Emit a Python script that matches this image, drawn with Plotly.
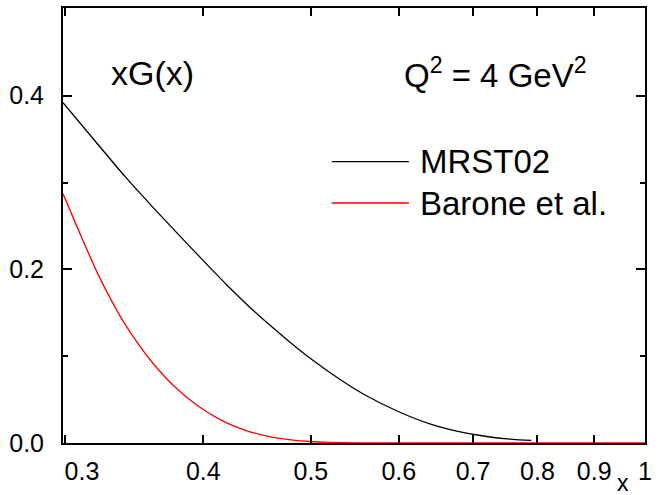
import plotly.graph_objects as go
import math

# ---- data ----
x_mrst = [0.299, 0.32, 0.34, 0.36, 0.38, 0.40, 0.42, 0.44, 0.46, 0.48, 0.50,
          0.53, 0.56, 0.60, 0.64, 0.68, 0.72, 0.76, 0.79]
y_mrst = [0.392, 0.347, 0.307, 0.272, 0.240, 0.210, 0.182, 0.157, 0.135, 0.115, 0.097,
          0.074, 0.055, 0.036, 0.022, 0.013, 0.0075, 0.0042, 0.003]

x_barone = [0.299, 0.31, 0.32, 0.33, 0.34, 0.35, 0.36, 0.37, 0.38, 0.39, 0.40,
            0.41, 0.42, 0.43, 0.44, 0.46, 0.48, 0.50, 0.52, 0.55, 0.60, 0.70, 0.80, 0.90, 1.0]
y_barone = [0.287, 0.240, 0.200, 0.166, 0.137, 0.113, 0.0924, 0.0752, 0.0608, 0.0487, 0.0386,
            0.0301, 0.0232, 0.0176, 0.0132, 0.0071, 0.0036, 0.0017, 0.0008, 0.0002, 0.0,
            0.0, 0.0, 0.0, 0.0]

x_ticks = [0.3, 0.4, 0.5, 0.6, 0.7, 0.8, 0.9, 1.0]
x_ticklabels = ["\u00a0" * 5 + "0.3", "0.4", "0.5", "0.6", "0.7", "0.8", "0.9", "1"]
y_ticks = [0.0, 0.2, 0.4]
y_ticklabels = ["0.0", "0.2", "0.4"]
y_minor_ticks = [0.1, 0.3]

series_names = ["MRST02", "Barone et al."]
series_colors = ["black", "#ff0000"]

FONT = "Liberation Sans, Arial, sans-serif"

fig = go.Figure()
fig.add_trace(go.Scatter(x=x_mrst, y=y_mrst, mode="lines", name=series_names[0],
                         line=dict(color=series_colors[0], width=1.3, shape="spline", smoothing=0.6),
                         showlegend=False))
fig.add_trace(go.Scatter(x=x_barone, y=y_barone, mode="lines", name=series_names[1],
                         line=dict(color=series_colors[1], width=1.3, shape="spline", smoothing=0.6),
                         showlegend=False))

W, H = 658, 495
L, R, T, B = 63, 6, 8, 52

fig.update_layout(
    width=W, height=H, autosize=False,
    margin=dict(l=L, r=R, t=T, b=B, pad=0),
    paper_bgcolor="white", plot_bgcolor="white",
    font=dict(family=FONT, color="black", size=25),
)
fig.update_xaxes(
    type="log", range=[math.log10(0.299), 0.0],
    tickvals=x_ticks, ticktext=x_ticklabels,
    ticks="inside", ticklen=8, tickwidth=1.5, tickcolor="black",
    showline=True, linewidth=2, linecolor="black", mirror="ticks",
    showgrid=False, zeroline=False,
    tickfont=dict(size=25), ticklabelstandoff=5,
)
fig.update_yaxes(
    range=[0.0, 0.501],
    tickvals=y_ticks, ticktext=y_ticklabels,
    ticks="inside", ticklen=9, tickwidth=1.5, tickcolor="black",
    minor=dict(tickvals=y_minor_ticks, ticks="inside", ticklen=5, tickwidth=1.5, tickcolor="black"),
    showline=True, linewidth=2, linecolor="black", mirror="ticks",
    showgrid=False, zeroline=False,
    tickfont=dict(size=25), ticklabelstandoff=12,
)

# helper: pixel -> paper
def px(xp):
    return (xp - L) / (W - L - R)

def py(yp):
    return 1 - (yp - T) / (H - T - B)

# manual legend
leg_rows = [161.7, 203.0]
for name, col, yy in zip(series_names, series_colors, leg_rows):
    fig.add_shape(type="line", xref="paper", yref="paper",
                  x0=px(335), x1=px(413), y0=py(yy), y1=py(yy),
                  line=dict(color=col, width=1.3))
    fig.add_annotation(xref="paper", yref="paper", x=px(422), y=py(yy),
                       text=name, showarrow=False, xanchor="left", yanchor="middle",
                       font=dict(size=33, family=FONT, color="black"))

fig.add_annotation(xref="paper", yref="paper", x=px(110), y=py(73),
                   text="xG(x)", showarrow=False, xanchor="left", yanchor="middle",
                   font=dict(size=34, family=FONT, color="black"))
fig.add_annotation(xref="paper", yref="paper", x=px(406), y=py(73),
                   text="Q<sup>2</sup> = 4 GeV<sup>2</sup>", showarrow=False,
                   xanchor="left", yanchor="middle",
                   font=dict(size=33, family=FONT, color="black"))
fig.add_annotation(xref="paper", yref="paper", x=px(630), y=py(495),
                   text="x", showarrow=False, xanchor="center", yanchor="bottom",
                   borderpad=0, yshift=-2,
                   font=dict(size=23, family=FONT, color="black"))

fig.write_html("out.html")
